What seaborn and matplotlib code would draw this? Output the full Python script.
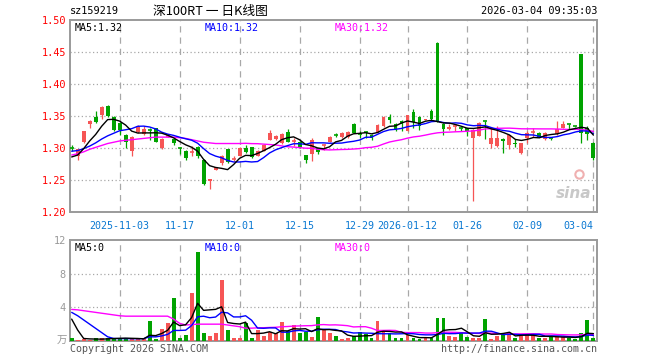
import math
import numpy as np
import pandas as pd
import matplotlib
matplotlib.use("Agg")
import matplotlib.pyplot as plt
import seaborn as sns

# ---------------- data ----------------
opens = [1.301, 1.288, 1.309, 1.338, 1.348, 1.352, 1.366, 1.349, 1.339, 1.321,
         1.296, 1.325, 1.322, 1.329, 1.331, 1.300, 1.318, 1.314, 1.301, 1.296,
         1.294, 1.302, 1.282, 1.248, 1.266, 1.277, 1.298, 1.283, 1.288, 1.300,
         1.301, 1.288, 1.296, 1.313, 1.314, 1.308, 1.325, 1.311, 1.310, 1.2885,
         1.291, 1.2995, 1.304, 1.310, 1.3205, 1.317, 1.317, 1.338, 1.322, 1.3255,
         1.321, 1.324, 1.334, 1.3485, 1.338, 1.342, 1.3266, 1.356, 1.349, 1.3432,
         1.3578, 1.4646, 1.338, 1.329, 1.334, 1.332, 1.3307, 1.315, 1.319, 1.342,
         1.307, 1.303, 1.3146, 1.305, 1.3083, 1.2927, 1.316, 1.324, 1.324, 1.3135,
         1.3155, 1.3214, 1.332, 1.338, 1.334, 1.4464, 1.3318, 1.3083]
highs = [1.305, 1.299, 1.327, 1.343, 1.358, 1.365, 1.367, 1.350, 1.340, 1.322,
         1.318, 1.336, 1.334, 1.332, 1.332, 1.315, 1.320, 1.315, 1.301, 1.297,
         1.303, 1.303, 1.283, 1.252, 1.271, 1.289, 1.299, 1.287, 1.301, 1.304,
         1.302, 1.297, 1.307, 1.328, 1.320, 1.323, 1.329, 1.315, 1.311, 1.289,
         1.315, 1.300, 1.306, 1.318, 1.3235, 1.325, 1.327, 1.339, 1.327, 1.326,
         1.322, 1.337, 1.350, 1.3525, 1.339, 1.343, 1.352, 1.3615, 1.350, 1.346,
         1.3604, 1.465, 1.339, 1.338, 1.336, 1.3323, 1.331, 1.329, 1.340, 1.342,
         1.3318, 1.3344, 1.315, 1.321, 1.3135, 1.308, 1.326, 1.3318, 1.325, 1.325,
         1.316, 1.342, 1.342, 1.338, 1.3345, 1.447, 1.3344, 1.309]
lows = [1.296, 1.281, 1.308, 1.332, 1.339, 1.345, 1.349, 1.327, 1.321, 1.300,
        1.288, 1.323, 1.321, 1.313, 1.309, 1.299, 1.317, 1.305, 1.290, 1.281,
        1.287, 1.285, 1.242, 1.236, 1.265, 1.274, 1.277, 1.279, 1.287, 1.292,
        1.285, 1.287, 1.295, 1.312, 1.312, 1.307, 1.309, 1.303, 1.300, 1.276,
        1.280, 1.290, 1.297, 1.309, 1.317, 1.316, 1.316, 1.323, 1.315, 1.316,
        1.312, 1.323, 1.333, 1.3396, 1.327, 1.3266, 1.326, 1.3318, 1.328, 1.343,
        1.343, 1.341, 1.320, 1.328, 1.3266, 1.326, 1.3188, 1.217, 1.318, 1.3135,
        1.3005, 1.302, 1.2917, 1.298, 1.302, 1.291, 1.3083, 1.3177, 1.317, 1.312,
        1.312, 1.320, 1.331, 1.329, 1.333, 1.3083, 1.312, 1.282]
closes = [1.300, 1.298, 1.326, 1.342, 1.340, 1.364, 1.350, 1.328, 1.328, 1.309,
          1.317, 1.335, 1.329, 1.328, 1.310, 1.314, 1.319, 1.308, 1.300, 1.284,
          1.295, 1.288, 1.244, 1.251, 1.270, 1.288, 1.278, 1.2835, 1.300, 1.293,
          1.286, 1.295, 1.305, 1.324, 1.319, 1.322, 1.310, 1.312, 1.3015, 1.282,
          1.312, 1.293, 1.305, 1.3175, 1.320, 1.324, 1.3255, 1.324, 1.321, 1.325,
          1.315, 1.336, 1.349, 1.3445, 1.328, 1.338, 1.3516, 1.340, 1.334, 1.3458,
          1.3448, 1.342, 1.329, 1.333, 1.3345, 1.331, 1.3266, 1.3276, 1.339, 1.341,
          1.315, 1.315, 1.311, 1.320, 1.3057, 1.3073, 1.324, 1.325, 1.3177, 1.324,
          1.315, 1.329, 1.338, 1.337, 1.3335, 1.324, 1.3224, 1.2838]
volumes = [0.35, 0.15, 0.2, 0.15, 0.3, 0.3, 0.3, 0.4, 0.3, 0.4,
           0.2, 0.2, 0.2, 2.4, 0.2, 1.45, 2.1, 5.1, 0.3, 0.7,
           5.7, 10.6, 0.9, 0.6, 1.0, 7.2, 1.3, 0.3, 0.3, 2.1,
           0.4, 1.3, 0.6, 1.1, 0.9, 2.2, 1.2, 1.9, 0.9, 1.1,
           0.5, 2.9, 1.3, 1.0, 0.6, 0.2, 0.4, 0.6, 1.1, 0.8,
           0.3, 2.4, 1.2, 1.0, 0.4, 0.4, 0.7, 0.3, 0.2, 0.4,
           0.3, 2.7, 2.7, 0.6, 0.5, 1.1, 0.5, 0.4, 0.3, 2.6,
           0.2, 0.6, 0.8, 1.0, 0.4, 0.6, 0.7, 0.7, 0.4, 0.4,
           0.5, 0.5, 0.5, 0.4, 0.2, 1.0, 2.5, 0.3]

# moving-average values before each window is full
ma5_lead = [1.286, 1.289, 1.299, 1.311]
ma10_lead = [1.295, 1.296, 1.299, 1.303, 1.308, 1.314, 1.319, 1.323, 1.327]
ma30_lead = [1.289, 1.291, 1.294, 1.298, 1.301, 1.304, 1.307, 1.309, 1.311, 1.312,
             1.313, 1.314, 1.315, 1.316, 1.317, 1.317, 1.317, 1.317, 1.316, 1.315,
             1.313, 1.311, 1.309, 1.308, 1.307, 1.307, 1.307, 1.307, 1.307]
vol_ma5_lead = [2.6, 1.3, 0.3, 0.25]
vol_ma10_lead = [3.4, 3.0, 2.5, 2.0, 1.5, 1.0, 0.5, 0.3, 0.28]
vol_ma30_lead = [3.75, 3.7, 3.6, 3.5, 3.4, 3.3, 3.2, 3.1, 3.0, 2.95,
                 2.95, 2.95, 2.95, 2.95, 2.95, 2.95, 2.95, 2.6, 2.1, 1.9,
                 1.95, 2.0, 2.0, 2.0, 2.0, 2.0, 1.9, 1.8, 1.7]

tick_index = [8, 18, 28, 38, 48, 56, 66, 76, 87]
tick_labels = ["2025-11-03", "11-17", "12-01", "12-15", "12-29",
               "2026-01-12", "01-26", "02-09", "03-04"]
price_ticks = [1.20, 1.25, 1.30, 1.35, 1.40, 1.45, 1.50]
vol_ticks = [4, 8, 12]

code = "sz159219"
title = "深100RT 一 日K线图"
stamp = "2026-03-04 09:35:03"

# ---------------- styling ----------------
sns.set_theme(style="white")
plt.rcParams['font.family'] = ['DejaVu Sans Mono', 'Noto Sans CJK SC']
RED = "#f65555"
GREEN = "#00a300"
FRAME = "#9a9a9a"
GRID = "#a8a8a8"
BLUE_TXT = "#0a78d2"

df = pd.DataFrame({"idx": np.arange(len(closes)), "open": opens, "high": highs,
                   "low": lows, "close": closes, "vol": volumes})


def moving(series, n, lead):
    s = series.rolling(n).mean().to_numpy().copy()
    s[:n - 1] = lead
    return s


def trunc2(v):
    return f"{math.floor(v * 100 + 1e-9) / 100:.2f}"


df["ma5"] = moving(df["close"], 5, ma5_lead)
df["ma10"] = moving(df["close"], 10, ma10_lead)
df["ma30"] = moving(df["close"], 30, ma30_lead)
df["vma5"] = moving(df["vol"], 5, vol_ma5_lead)
df["vma10"] = moving(df["vol"], 10, vol_ma10_lead)
df["vma30"] = moving(df["vol"], 30, vol_ma30_lead)
df["up"] = df["close"] >= df["open"]
df["color"] = np.where(df["up"], RED, GREEN)

W, H = 660, 360
fig = plt.figure(figsize=(6.6, 3.6), dpi=100)
L, R = 70, 597
ax1 = fig.add_axes([L / W, 1 - 212 / H, (R - L) / W, (212 - 20) / H])
ax2 = fig.add_axes([L / W, 1 - 341 / H, (R - L) / W, (341 - 240) / H])

xlim = (-0.28, 87.6)
for ax in (ax1, ax2):
    ax.set_xlim(*xlim)
    for sp in ax.spines.values():
        sp.set_color(FRAME)
        sp.set_linewidth(1.4)
    ax.tick_params(length=0)
    ax.set_xticks([])
    for t in tick_index:
        ax.axvline(t, color=GRID, lw=0.9, ls=(0, (5, 4)), zorder=0)
    ax.set_facecolor("white")

# ---- price panel ----
ax1.set_ylim(1.20, 1.50)
ax1.set_yticks(price_ticks)
ax1.set_yticklabels([f"{v:.2f}" for v in price_ticks], color="#ff0000", fontsize=7.4)
ax1.tick_params(axis="y", pad=3)
for v in price_ticks[1:-1]:
    ax1.axhline(v, color=GRID, lw=0.9, ls=(0, (1, 2)), zorder=0)

bw = 0.66
ax1.vlines(df["idx"], df["low"], df["high"], colors=df["color"], lw=0.9, zorder=2)
body_lo = np.minimum(df["open"], df["close"])
body_h = np.abs(df["close"] - df["open"])
big = body_h >= 0.0015
ax1.bar(df["idx"][big], body_h[big], bottom=body_lo[big], width=bw,
        color=df["color"][big], linewidth=0, zorder=3)
small = ~big
ax1.hlines((df["open"] + df["close"])[small] / 2, df["idx"][small] - bw / 2,
           df["idx"][small] + bw / 2, colors=df["color"][small], lw=1.2, zorder=3)

sns.lineplot(data=df, x="idx", y="ma30", ax=ax1, color="#ff00ff", lw=1.0, zorder=4)
sns.lineplot(data=df, x="idx", y="ma10", ax=ax1, color="#0000ff", lw=1.0, zorder=5)
sns.lineplot(data=df, x="idx", y="ma5", ax=ax1, color="#000000", lw=1.0, zorder=6)
ax1.set_xlabel("")
ax1.set_ylabel("")
ax1.set_xlim(*xlim)

ty = 0.985
ax1.text(0.008, ty, f"MA5:{trunc2(df['ma5'].iloc[-1])}", transform=ax1.transAxes,
         color="black", fontsize=7.2, va="top", ha="left")
ax1.text((205 - L) / (R - L), ty, f"MA10:{trunc2(df['ma10'].iloc[-1])}",
         transform=ax1.transAxes, color="#0000ff", fontsize=7.2, va="top", ha="left")
ax1.text((335 - L) / (R - L), ty, f"MA30:{trunc2(df['ma30'].iloc[-1])}",
         transform=ax1.transAxes, color="#ff00ff", fontsize=7.2, va="top", ha="left")

# x tick labels under price panel
for t, lab in zip(tick_index, tick_labels):
    ha = "right" if t == tick_index[-1] else "center"
    ax1.text(t, -0.045, lab, transform=ax1.get_xaxis_transform(), ha=ha, va="top",
             color=BLUE_TXT, fontsize=7.2)

# sina watermark
ax1.text(0.955, 0.095, "sina", transform=ax1.transAxes, ha="center", va="center",
         color="#c8c8c8", fontsize=11, fontstyle="italic", fontweight="bold",
         family="DejaVu Sans", zorder=1)
ax1.plot([0.965], [0.2], marker="o", ms=6, mfc="none", mec="#f0b0b0", mew=1.5,
         transform=ax1.transAxes, zorder=1)

# ---- volume panel ----
ax2.set_ylim(0, 12)
ax2.set_yticks(vol_ticks)
ax2.set_yticklabels([str(v) for v in vol_ticks], color="#999999", fontsize=7.4)
ax2.tick_params(axis="y", pad=3)
for v in (4, 8):
    ax2.axhline(v, color=GRID, lw=0.9, ls=(0, (1, 2)), zorder=0)
ax2.bar(df["idx"], df["vol"], width=bw, color=df["color"], linewidth=0, zorder=3)
sns.lineplot(data=df, x="idx", y="vma30", ax=ax2, color="#ff00ff", lw=1.0, zorder=4)
sns.lineplot(data=df, x="idx", y="vma10", ax=ax2, color="#0000ff", lw=1.0, zorder=5)
sns.lineplot(data=df, x="idx", y="vma5", ax=ax2, color="#000000", lw=1.0, zorder=6)
ax2.set_xlabel("")
ax2.set_ylabel("")
ax2.set_xlim(*xlim)
ax2.text(0.008, 0.975, "MA5:0", transform=ax2.transAxes, color="black", fontsize=7.2,
         va="top", ha="left")
ax2.text((205 - L) / (R - L), 0.975, "MA10:0", transform=ax2.transAxes,
         color="#0000ff", fontsize=7.2, va="top", ha="left")
ax2.text((335 - L) / (R - L), 0.975, "MA30:0", transform=ax2.transAxes,
         color="#ff00ff", fontsize=7.2, va="top", ha="left")

# ---- figure texts ----
fig.text(L / W, 1 - 11 / H, code, ha="left", va="center", fontsize=7.4, color="black")
fig.text(210 / W, 1 - 11 / H, title, ha="center", va="center", fontsize=9.2,
         color="black", family=["Noto Sans CJK SC", "DejaVu Sans"])
fig.text(R / W, 1 - 11 / H, stamp, ha="right", va="center", fontsize=7.4, color="black")
fig.text(67 / W, 1 - 341 / H, "万", ha="right", va="center", fontsize=7.5,
         color="#999999", family=["Noto Sans CJK SC", "DejaVu Sans"])
fig.text(L / W, 1 - 349 / H, "Copyright 2026 SINA.COM", ha="left", va="center",
         fontsize=7.2, color="#555555")
fig.text(R / W, 1 - 349 / H, "http://finance.sina.com.cn", ha="right", va="center",
         fontsize=7.2, color="#555555")

fig.savefig("out.png", dpi=100, facecolor="white")
